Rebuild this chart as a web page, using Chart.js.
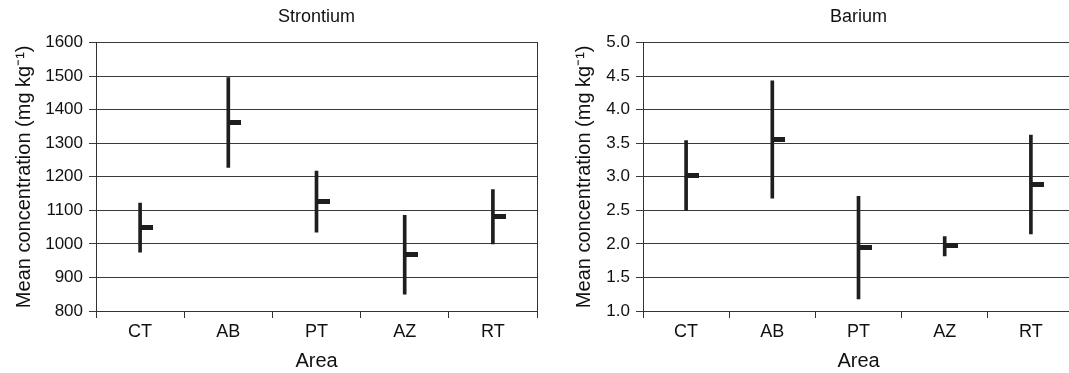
<!DOCTYPE html>
<html>
<head>
<meta charset="utf-8">
<script src="https://cdn.jsdelivr.net/npm/chart.js@4"></script>
<style>
	body { margin: 0; background: #fff; overflow: hidden; }
	#srChart { position: absolute; left: 0; top: 0; }
	#baChart { position: absolute; left: 545px; top: 0; }
</style>
</head>
<body>
<canvas id="srChart" width="545" height="373"></canvas>
<canvas id="baChart" width="540" height="373"></canvas>
<script>
const areas = ["CT", "AB", "PT", "AZ", "RT"]

const srLow = [975, 1228, 1035, 850, 1000]
const srHigh = [1122, 1496, 1217, 1085, 1162]
const srMean = [1049, 1362, 1126, 967, 1081]

const baLow = [2.5, 2.68, 1.18, 1.82, 2.15]
const baHigh = [3.54, 4.43, 2.71, 2.11, 3.62]
const baMean = [3.02, 3.56, 1.95, 1.975, 2.89]

const ink = "#1e1e1e"
const font = "'Liberation Sans', Arial, sans-serif"

// mean: short dash to the right of the whisker
const meanMark = document.createElement("canvas")
meanMark.width = 26
meanMark.height = 5
const mctx = meanMark.getContext("2d")
mctx.fillStyle = ink
mctx.fillRect(13, 0, 13, 5)

function makeChart(id, title, low, high, mean, min, max, step, decimals, opts) {
	return new Chart(document.getElementById(id), {
		type: "bar",
		data: {
			labels: areas,
			datasets: [{
				data: low.map((v, i) => [v, high[i]]),
				backgroundColor: ink,
				barThickness: 3
			}, {
				type: "line",
				data: mean,
				showLine: false,
				pointStyle: meanMark,
				pointRadius: 7
			}]
		},
		options: {
			responsive: false,
			animation: false,
			events: [],
			layout: { padding: { left: opts.padLeft, right: opts.padRight, top: 0, bottom: 0 } },
			plugins: {
				legend: { display: false },
				tooltip: { enabled: false },
				title: {
					display: true,
					fullSize: false,
					text: title,
					color: "#111",
					font: { family: font, size: 18, weight: "normal" },
					padding: { top: 6, bottom: 15 }
				}
			},
			scales: {
				x: {
					grid: { offset: true, drawOnChartArea: false, tickLength: 7, color: "#333" },
					border: { color: "#333" },
					ticks: { color: "#111", font: { family: font, size: 18 }, padding: 3 },
					title: {
						display: true,
						text: "Area",
						color: "#111",
						font: { family: font, size: 20 },
						padding: { top: 0, bottom: 0 }
					},
					afterFit: s => { s.height = 62 }
				},
				y: {
					min: min,
					max: max,
					ticks: {
						stepSize: step,
						color: "#111",
						font: { family: font, size: 17 },
						padding: 6,
						callback: v => v.toFixed(decimals)
					},
					grid: { color: "#3a3a3a", tickLength: 7 },
					border: { color: "#333" },
					title: {
						display: true,
						text: "Mean concentration (mg kg\u207B\u00B9)",
						color: "#111",
						font: { family: font, size: 20 },
						padding: { top: opts.titlePad, bottom: 0 }
					},
					afterFit: s => { s.width = opts.axisWidth }
				},
				y2: {
					position: "right",
					grid: { drawOnChartArea: false, drawTicks: false },
					ticks: { display: false },
					border: { color: "#333" }
				}
			}
		}
	})
}

const srChart = makeChart("srChart", "Strontium", srLow, srHigh, srMean, 800, 1600, 100, 0,
	{ padLeft: 0, padRight: 8, titlePad: 12, axisWidth: 96 })
const baChart = makeChart("baChart", "Barium", baLow, baHigh, baMean, 1, 5, 0.5, 1,
	{ padLeft: 27, padRight: 11, titlePad: 0, axisWidth: 71 })
</script>
</body>
</html>
